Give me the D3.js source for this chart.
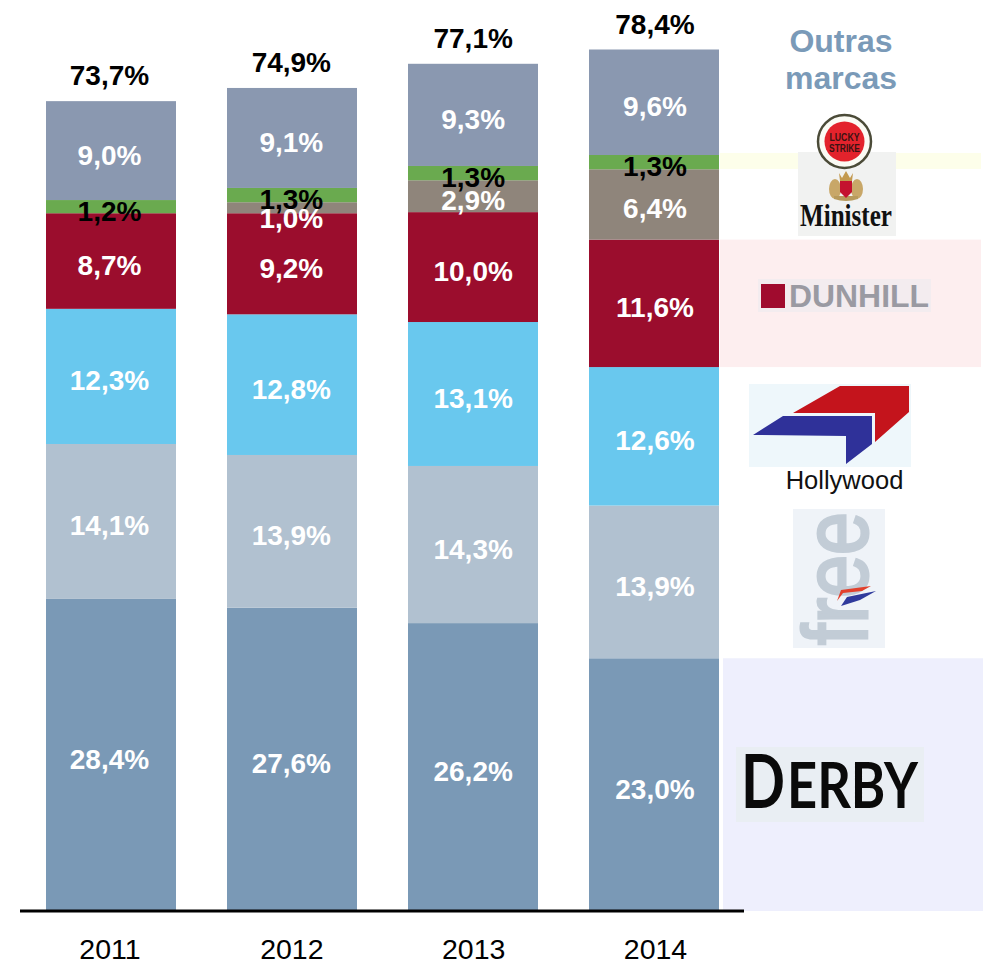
<!DOCTYPE html>
<html><head><meta charset="utf-8">
<script src="https://cdn.jsdelivr.net/npm/d3@7/dist/d3.min.js"></script>
<style>html,body{margin:0;padding:0;background:#fff}svg{display:block}text{font-family:"Liberation Sans",Arial,sans-serif}</style>
</head><body>
<svg id="c" width="985" height="962"></svg>
<script>
const years = ["2011","2012","2013","2014"];
const totals = ["73,7%","74,9%","77,1%","78,4%"];
const derby = [28.4,27.6,26.2,23.0];
const free = [14.1,13.9,14.3,13.9];
const hollywood = [12.3,12.8,13.1,12.6];
const dunhill = [8.7,9.2,10.0,11.6];
const minister = [0,1.0,2.9,6.4];
const lucky = [1.2,1.3,1.3,1.3];
const outras = [9.0,9.1,9.3,9.6];
const seriesNames = ["Derby","Free","Hollywood","Dunhill","Minister","Lucky Strike","Outras"];
const seriesValues = [derby,free,hollywood,dunhill,minister,lucky,outras];
const seriesColors = ["#7a99b6","#b1c1d0","#69c8ee","#9b0d2d","#8f857b","#6aaa4f","#8a98b0"];
const labelColors = ["#fff","#fff","#fff","#fff","#fff","#000","#fff"];
const titleLines = ["Outras","marcas"];

const svg = d3.select("#c");
const x = d3.scaleBand().domain(years).range([46,719]).paddingInner(0.2818).paddingOuter(0);
const xLabel = d3.scalePoint().domain(years).range([109.5,655]);
const y = d3.scaleLinear().domain([0,78.4]).range([911,49.5]);
const fmt = v => v.toFixed(1).replace(".",",")+"%";

/* pale bands behind the logos */
const bandX0 = 720, bandW = 261;
const top2014 = k => d3.sum(seriesValues.slice(0,k+1), s => s[3]);
svg.append("rect").attr("x",723).attr("y",y(top2014(0))).attr("width",260).attr("height",y(0)-y(top2014(0))).attr("fill","#eeeffd");
svg.append("rect").attr("x",bandX0).attr("y",y(top2014(3))).attr("width",bandW).attr("height",y(top2014(2))-y(top2014(3))).attr("fill","#fdeeef");
svg.append("rect").attr("x",bandX0).attr("y",y(top2014(5))-2).attr("width",bandW).attr("height",16).attr("fill","#fdfeea");

/* stacked bars */
const stack = d3.stack().keys(d3.range(seriesNames.length)).value((d,k)=>seriesValues[k][d]);
const layers = stack(d3.range(years.length));
const g = svg.selectAll("g.layer").data(layers).join("g").attr("class","layer").attr("fill",(d,i)=>seriesColors[i]);
g.selectAll("rect").data(d=>d.map((p,i)=>({p,i}))).join("rect")
  .attr("x",d=>x(years[d.i])).attr("width",x.bandwidth())
  .attr("y",d=>y(d.p[1])).attr("height",d=>y(d.p[0])-y(d.p[1]));

/* value labels: the thin 2012 Minister label sits lower, as in the source */
[0,1,2,3,5,4,6].forEach(k=>{
  const layer = layers[k];
  svg.append("g").selectAll("text").data(layer.map((p,i)=>({p,i})).filter(d=>seriesValues[k][d.i]>0)).join("text")
    .attr("x",d=>xLabel(years[d.i]))
    .attr("y",d=>y((d.p[0]+d.p[1])/2)+14+(seriesValues[k][d.i]===1.0?6:0))
    .attr("text-anchor","middle").attr("font-size",28).attr("font-weight",700)
    .attr("fill",labelColors[k])
    .text(d=>fmt(seriesValues[k][d.i]));
});

/* totals */
svg.append("g").selectAll("text").data(years).join("text")
  .attr("x",d=>xLabel(d))
  .attr("y",(d,i)=>y(d3.sum(seriesValues,s=>s[i]))-16)
  .attr("text-anchor","middle").attr("font-size",28).attr("font-weight",700).attr("fill","#000")
  .text((d,i)=>totals[i]);

/* axis */
const axis = svg.append("g").attr("transform","translate(0,911)").call(d3.axisBottom(xLabel).tickSize(0).tickPadding(28));
axis.select(".domain").remove();
axis.selectAll("text").attr("font-size",28.5).attr("font-family","Liberation Sans").attr("fill","#000");
svg.append("line").attr("x1",20).attr("x2",744).attr("y1",911).attr("y2",911).attr("stroke","#000").attr("stroke-width",3);

/* title */
svg.append("g").selectAll("text").data(titleLines).join("text")
  .attr("x",841).attr("y",(d,i)=>52+i*37).attr("text-anchor","middle")
  .attr("font-size",32).attr("font-weight",700).attr("fill","#7a9ab8").text(d=>d);

/* Logo: Minister + Lucky Strike */
svg.append("rect").attr("x",798).attr("y",152).attr("width",98).attr("height",84).attr("fill","#f1f2f1");
svg.append("circle").attr("cx",844.5).attr("cy",141.5).attr("r",26.5).attr("fill","#fbfbf4").attr("stroke","#4b4b38").attr("stroke-width",2.5);
svg.append("circle").attr("cx",844.5).attr("cy",141.5).attr("r",20).attr("fill","#e3232c");
svg.append("text").attr("x",844.5).attr("y",141).attr("text-anchor","middle").attr("font-size",10).attr("font-weight",700).attr("fill","#3a1212").attr("textLength",30).attr("lengthAdjust","spacingAndGlyphs").text("LUCKY");
svg.append("text").attr("x",844.5).attr("y",152).attr("text-anchor","middle").attr("font-size",10).attr("font-weight",700).attr("fill","#3a1212").attr("textLength",31).attr("lengthAdjust","spacingAndGlyphs").text("STRIKE");
/* crest */
svg.append("ellipse").attr("cx",835).attr("cy",189).attr("rx",6).attr("ry",10).attr("fill","#c8a768");
svg.append("ellipse").attr("cx",857).attr("cy",189).attr("rx",6).attr("ry",10).attr("fill","#c8a768");
svg.append("path").attr("d","M839 173 L842 178 L846 171 L850 178 L853 173 L852 181 L840 181 Z").attr("fill","#c39a50");
svg.append("path").attr("d","M834 199 Q846 203 858 199 L858 196 L834 196 Z").attr("fill","#b79a5c");
svg.append("path").attr("d","M840 181 H852 V192 L846 198 L840 192 Z").attr("fill","#c4122f");
svg.append("text").attr("x",846).attr("y",226).attr("text-anchor","middle").attr("font-size",31).attr("font-weight",700).attr("fill","#111").attr("textLength",92).attr("lengthAdjust","spacingAndGlyphs").style("font-family","Liberation Serif").text("Minister");

/* Logo: Dunhill */
svg.append("rect").attr("x",758).attr("y",279).attr("width",173).attr("height",33).attr("fill","#f3ecef");
svg.append("rect").attr("x",761).attr("y",284).attr("width",24).attr("height",24).attr("fill","#a00b2e");
svg.append("text").attr("x",789).attr("y",307).attr("font-size",32).attr("font-weight",700).attr("fill","#9a9aa2").attr("textLength",140).attr("lengthAdjust","spacingAndGlyphs").text("DUNHILL");

/* Logo: Hollywood */
svg.append("rect").attr("x",749).attr("y",384).attr("width",162).attr("height",83).attr("fill","#eef7fb");
svg.append("polygon").attr("points","793,413 840,386 909,386 909,412 875,442 875,413").attr("fill","#c4141c");
svg.append("polygon").attr("points","753,435 783,416 872,416 872,444 846,464 846,436").attr("fill","#2f3199");
svg.append("text").attr("x",844.5).attr("y",489).attr("text-anchor","middle").attr("font-size",25.5).attr("fill","#111").text("Hollywood");

/* Logo: Free */
svg.append("rect").attr("x",793).attr("y",509).attr("width",92).attr("height",139).attr("fill","#eff3f8");
svg.append("text").attr("transform","translate(867,645) rotate(-90)").attr("font-size",90).attr("fill","#c2ccd6").attr("stroke","#c2ccd6").attr("stroke-width",3).attr("textLength",133).attr("lengthAdjust","spacingAndGlyphs").text("free");
svg.append("polygon").attr("points","837,601 841,590 871,586 862,591 843,593").attr("fill","#e2402c");
svg.append("polygon").attr("points","841,606 847,597 876,591 860,600").attr("fill","#2f3a9c");

/* Logo: Derby */
svg.append("rect").attr("x",736).attr("y",747).attr("width",188).attr("height",75).attr("fill","#e9eef3");
svg.append("text").attr("x",741).attr("y",808).attr("font-size",74).attr("fill","#0a0a0a").attr("font-weight",700).attr("textLength",44).attr("lengthAdjust","spacingAndGlyphs").style("font-family","Lato").text("D");
svg.append("text").attr("x",787).attr("y",808).attr("font-size",64).attr("fill","#0a0a0a").attr("font-weight",700).attr("textLength",131).attr("lengthAdjust","spacingAndGlyphs").style("font-family","Lato").text("ERBY");
</script>
</body></html>
